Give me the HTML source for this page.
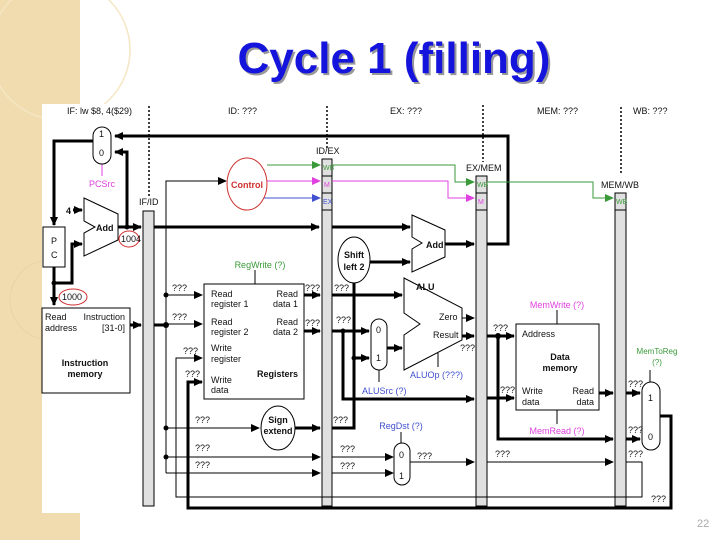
<!DOCTYPE html>
<html><head><meta charset="utf-8"><style>
body{margin:0;width:720px;height:540px;overflow:hidden;background:#fff}
svg{display:block}
text{font-family:"Liberation Sans",sans-serif;font-size:9px;fill:#111}
.q{font-size:9px}
</style></head><body>
<svg width="720" height="540" viewBox="0 0 720 540" xmlns="http://www.w3.org/2000/svg">
<defs>
<marker id="a" markerUnits="userSpaceOnUse" markerWidth="9" markerHeight="8" refX="8" refY="4" orient="auto"><path d="M0,0 L9,4 L0,8 z" fill="#000"/></marker>
<marker id="ag" markerUnits="userSpaceOnUse" markerWidth="9" markerHeight="8" refX="8" refY="4" orient="auto"><path d="M0,0 L9,4 L0,8 z" fill="#3a9a3a"/></marker>
<marker id="ap" markerUnits="userSpaceOnUse" markerWidth="9" markerHeight="8" refX="8" refY="4" orient="auto"><path d="M0,0 L9,4 L0,8 z" fill="#e040e0"/></marker>
<marker id="ab" markerUnits="userSpaceOnUse" markerWidth="9" markerHeight="8" refX="8" refY="4" orient="auto"><path d="M0,0 L9,4 L0,8 z" fill="#4050d0"/></marker>
</defs>
<rect x="0" y="0" width="80" height="540" fill="#f0dcae"/>
<circle cx="60" cy="50" r="70" fill="none" stroke="#f5e6c4" stroke-width="1.5"/>
<circle cx="50" cy="300" r="40" fill="none" stroke="#e8d4a6" stroke-width="1"/>
<rect x="42" y="104" width="678" height="409" fill="#fff"/>
<text x="396" y="75" text-anchor="middle" style="font-size:44px;font-weight:bold;fill:#999">Cycle 1 (filling)</text>
<text x="394" y="73" text-anchor="middle" style="font-size:44px;font-weight:bold;fill:#1414dc">Cycle 1 (filling)</text>
<text x="697" y="527" style="font-size:11px;fill:#aaa">22</text>

<text x="67" y="114">IF: lw $8, 4($29)</text>
<text x="228" y="114">ID: ???</text>
<text x="390" y="114">EX: ???</text>
<text x="537" y="114">MEM: ???</text>
<text x="633" y="114">WB: ???</text>
<g stroke="#000" stroke-width="1.5" stroke-dasharray="2,2">
<line x1="149" y1="106" x2="149" y2="197"/><line x1="327" y1="106" x2="327" y2="150"/>
<line x1="483" y1="105" x2="483" y2="162"/><line x1="621" y1="107" x2="621" y2="175"/></g>

<g fill="#e0e0e0" stroke="#000" stroke-width="1">
<rect x="143" y="211" width="11" height="295"/>
<rect x="322" y="159" width="10" height="347"/>
<rect x="476" y="176" width="11" height="330"/>
<rect x="615" y="193" width="11" height="313"/>
</g>
<g fill="none" stroke="#000" stroke-width="1"><line x1="322" y1="176" x2="332" y2="176"/><line x1="322" y1="193" x2="332" y2="193"/><line x1="322" y1="210" x2="332" y2="210"/>
<line x1="476" y1="193" x2="487" y2="193"/><line x1="476" y1="210" x2="487" y2="210"/><line x1="615" y1="210" x2="626" y2="210"/></g>
<g style="font-size:7px"><text x="323" y="170" style="font-size:7px;fill:#3a9a3a">WB</text><text x="324" y="187" style="font-size:7px;fill:#e040e0">M</text><text x="323" y="204" style="font-size:7px;fill:#4050d0">EX</text>
<text x="477" y="187" style="font-size:7px;fill:#3a9a3a">WB</text><text x="478" y="204" style="font-size:7px;fill:#e040e0">M</text><text x="616" y="204" style="font-size:7px;fill:#3a9a3a">WB</text></g>
<text x="139" y="205">IF/ID</text><text x="316" y="154">ID/EX</text><text x="466" y="171">EX/MEM</text><text x="601" y="188">MEM/WB</text>

<g fill="none" stroke="#000" stroke-width="3">
<polyline points="487,244 508,244 508,136 115,136" marker-end="url(#a)"/>
<polyline points="93,141 54,141 54,225" marker-end="url(#a)"/>
<polyline points="127,227 127,152 115,152" marker-end="url(#a)"/>
<line x1="118" y1="227" x2="141" y2="227" marker-end="url(#a)"/>
<line x1="154" y1="227" x2="319" y2="227" marker-end="url(#a)"/>
<line x1="332" y1="227" x2="410" y2="227" marker-end="url(#a)"/>
<polyline points="54,267 54,305" marker-end="url(#a)"/>
<polyline points="54,283 72,283 72,244 82,244" marker-end="url(#a)"/>
<line x1="73" y1="210" x2="82" y2="210" marker-end="url(#a)"/>
<line x1="130" y1="325" x2="141" y2="325" marker-end="url(#a)"/>
<line x1="154" y1="325" x2="166" y2="325"/>
<line x1="304" y1="295" x2="320" y2="295" marker-end="url(#a)"/>
<line x1="304" y1="331" x2="320" y2="331" marker-end="url(#a)"/>
<line x1="332" y1="295" x2="402" y2="295" marker-end="url(#a)"/>
<line x1="332" y1="331" x2="369" y2="331" marker-end="url(#a)"/>
<polyline points="343,331 343,399 474,399" marker-end="url(#a)"/>
<line x1="370" y1="262" x2="410" y2="262" marker-end="url(#a)"/>
<line x1="445" y1="244" x2="474" y2="244" marker-end="url(#a)"/>
<polyline points="332,428 354,428 354,283"/>
<line x1="354" y1="358" x2="369" y2="358" marker-end="url(#a)"/>
<line x1="387" y1="348" x2="402" y2="348" marker-end="url(#a)"/>
<line x1="295" y1="428" x2="320" y2="428" marker-end="url(#a)"/>
<line x1="462" y1="336" x2="474" y2="336" marker-end="url(#a)"/>
<line x1="487" y1="336" x2="514" y2="336" marker-end="url(#a)"/>
<polyline points="498,336 498,439 613,439" marker-end="url(#a)"/>
<line x1="626" y1="439" x2="640" y2="439" marker-end="url(#a)"/>
<line x1="487" y1="398" x2="514" y2="398" marker-end="url(#a)"/>
<line x1="599" y1="393" x2="613" y2="393" marker-end="url(#a)"/>
<line x1="626" y1="393" x2="640" y2="393" marker-end="url(#a)"/>
<polyline points="660,416 671,416 671,508 188,508 188,382 202,382" marker-end="url(#a)"/>
</g>
<g fill="none" stroke="#000" stroke-width="1">
<polyline points="166,473 166,181 226,181" marker-end="url(#a)"/>
<line x1="166" y1="295" x2="202" y2="295" marker-end="url(#a)"/>
<line x1="166" y1="324" x2="202" y2="324" marker-end="url(#a)"/>
<line x1="166" y1="428" x2="259" y2="428" marker-end="url(#a)"/>
<line x1="166" y1="457" x2="320" y2="457" marker-end="url(#a)"/>
<line x1="166" y1="473" x2="320" y2="473" marker-end="url(#a)"/>
<line x1="332" y1="457" x2="393" y2="457" marker-end="url(#a)"/>
<line x1="332" y1="473" x2="393" y2="473" marker-end="url(#a)"/>
<line x1="410" y1="462" x2="474" y2="462" marker-end="url(#a)"/>
<line x1="487" y1="462" x2="613" y2="462" marker-end="url(#a)"/>
<polyline points="626,462 642,462 642,497 176,497 176,358 202,358" marker-end="url(#a)"/>
<line x1="462" y1="318" x2="474" y2="318" marker-end="url(#a)"/>
<line x1="255" y1="270" x2="255" y2="284"/>
<line x1="379" y1="370" x2="379" y2="382"/>
<line x1="438" y1="353" x2="438" y2="367"/>
<line x1="401" y1="432" x2="401" y2="443"/>
<line x1="557" y1="310" x2="557" y2="324"/>
<line x1="557" y1="410" x2="557" y2="424"/>
<line x1="650" y1="370" x2="650" y2="382"/>
<line x1="102" y1="164" x2="102" y2="176" stroke="#e040e0"/>
</g>
<g fill="#000"><circle cx="127" cy="227" r="2.5"/><circle cx="54" cy="283" r="2.5"/><circle cx="166" cy="295" r="2.5"/><circle cx="166" cy="325" r="3"/><circle cx="166" cy="428" r="2.5"/><circle cx="166" cy="457" r="2.5"/><circle cx="343" cy="331" r="2.5"/><circle cx="354" cy="358" r="2.5"/><circle cx="498" cy="336" r="3"/></g>
<line x1="267" y1="165" x2="320" y2="165" stroke="#3a9a3a" marker-end="url(#ag)"/>
<line x1="267" y1="181" x2="320" y2="181" stroke="#e040e0" marker-end="url(#ap)"/>
<line x1="264" y1="198" x2="320" y2="198" stroke="#4050d0" marker-end="url(#ab)"/>
<polyline points="332,165 455,165 455,182 474,182" fill="none" stroke="#3a9a3a" marker-end="url(#ag)"/>
<polyline points="332,181 448,181 448,198 474,198" fill="none" stroke="#e040e0" marker-end="url(#ap)"/>
<polyline points="487,182 593,182 593,198 613,198" fill="none" stroke="#3a9a3a" marker-end="url(#ag)"/>

<g fill="#fff" stroke="#000" stroke-width="1">
<rect x="93" y="127" width="18" height="37" rx="9"/>
<rect x="43" y="227" width="22" height="40"/>
<polygon points="84,198 118,214 118,240 84,256 84,233 95,227 84,221"/>
<rect x="42" y="308" width="88" height="85"/>
<rect x="204" y="284" width="100" height="115"/>
<polygon points="412,215 445,230 445,257 412,272 412,249 422,243 412,237"/>
<polygon points="404,278 462,308 462,340 404,370 404,335 420,324 404,313"/>
<rect x="371" y="319" width="16" height="51" rx="8"/>
<rect x="394" y="443" width="16" height="42" rx="8"/>
<rect x="642" y="382" width="18" height="68" rx="9"/>
<rect x="516" y="324" width="83" height="86"/>
<ellipse cx="354" cy="260" rx="16" ry="23"/>
<ellipse cx="278" cy="428" rx="17" ry="22"/>
</g>
<ellipse cx="247" cy="184" rx="20" ry="26" fill="#fff" stroke="#d03030"/>
<ellipse cx="129" cy="239" rx="10" ry="8" fill="none" stroke="#d03030"/>
<ellipse cx="73" cy="297" rx="14" ry="8" fill="none" stroke="#d03030"/>
<text x="247" y="188" text-anchor="middle" style="fill:#d03030;font-weight:bold;font-size:9px">Control</text>
<text x="99" y="137">1</text><text x="99" y="156">0</text>
<text x="89" y="187" style="fill:#e040e0">PCSrc</text>
<text x="51" y="244">P</text><text x="51" y="258">C</text>
<text x="96" y="231" style="font-weight:bold">Add</text>
<text x="426" y="248" style="font-weight:bold">Add</text>
<text x="66" y="214" style="font-weight:bold">4</text>
<text x="121" y="242">1004</text><text x="62" y="300">1000</text>
<text x="45" y="320">Read</text><text x="45" y="331">address</text>
<text x="125" y="320" text-anchor="end">Instruction</text><text x="125" y="331" text-anchor="end">[31-0]</text>
<text x="85" y="366" text-anchor="middle" style="font-weight:bold">Instruction</text><text x="85" y="377" text-anchor="middle" style="font-weight:bold">memory</text>
<text x="211" y="297">Read</text><text x="211" y="307">register 1</text>
<text x="211" y="325">Read</text><text x="211" y="335">register 2</text>
<text x="211" y="351">Write</text><text x="211" y="362">register</text>
<text x="211" y="383">Write</text><text x="211" y="393">data</text>
<text x="298" y="297" text-anchor="end">Read</text><text x="298" y="307" text-anchor="end">data 1</text>
<text x="298" y="325" text-anchor="end">Read</text><text x="298" y="335" text-anchor="end">data 2</text>
<text x="298" y="377" text-anchor="end" style="font-weight:bold">Registers</text>
<text x="260" y="268" text-anchor="middle" style="fill:#3a9a3a">RegWrite (?)</text>
<text x="354" y="258" text-anchor="middle" style="font-weight:bold">Shift</text><text x="354" y="270" text-anchor="middle" style="font-weight:bold">left 2</text>
<text x="278" y="423" text-anchor="middle" style="font-weight:bold">Sign</text><text x="278" y="434" text-anchor="middle" style="font-weight:bold">extend</text>
<text x="416" y="290" style="font-weight:bold">ALU</text>
<text x="439" y="320">Zero</text><text x="433" y="338">Result</text>
<text x="376" y="333">0</text><text x="376" y="361">1</text>
<text x="399" y="458">0</text><text x="399" y="479">1</text>
<text x="648" y="401">1</text><text x="648" y="440">0</text>
<text x="362" y="394" style="fill:#4050d0">ALUSrc (?)</text>
<text x="410" y="378" style="fill:#4050d0">ALUOp (???)</text>
<text x="401" y="429" text-anchor="middle" style="fill:#4050d0">RegDst (?)</text>
<text x="557" y="308" text-anchor="middle" style="fill:#e040e0">MemWrite (?)</text>
<text x="557" y="434" text-anchor="middle" style="fill:#e040e0">MemRead (?)</text>
<text x="657" y="354" text-anchor="middle" style="fill:#3a9a3a;font-size:8px">MemToReg</text>
<text x="657" y="365" text-anchor="middle" style="fill:#3a9a3a;font-size:8px">(?)</text>
<text x="522" y="337">Address</text>
<text x="560" y="360" text-anchor="middle" style="font-weight:bold">Data</text><text x="560" y="371" text-anchor="middle" style="font-weight:bold">memory</text>
<text x="522" y="394">Write</text><text x="522" y="405">data</text>
<text x="594" y="394" text-anchor="end">Read</text><text x="594" y="405" text-anchor="end">data</text>
<g class="q">
<text x="172" y="291">???</text><text x="172" y="320">???</text><text x="183" y="354">???</text><text x="185" y="377">???</text>
<text x="195" y="423">???</text><text x="195" y="451">???</text><text x="195" y="468">???</text>
<text x="305" y="291">???</text><text x="305" y="326">???</text><text x="334" y="291">???</text><text x="336" y="323">???</text>
<text x="333" y="423">???</text><text x="340" y="452">???</text><text x="340" y="469">???</text>
<text x="417" y="459">???</text><text x="460" y="351">???</text><text x="493" y="331">???</text>
<text x="495" y="457">???</text><text x="500" y="393">???</text>
<text x="628" y="387">???</text><text x="628" y="433">???</text><text x="628" y="457">???</text><text x="651" y="502">???</text>
</g>
</svg>
</body></html>
